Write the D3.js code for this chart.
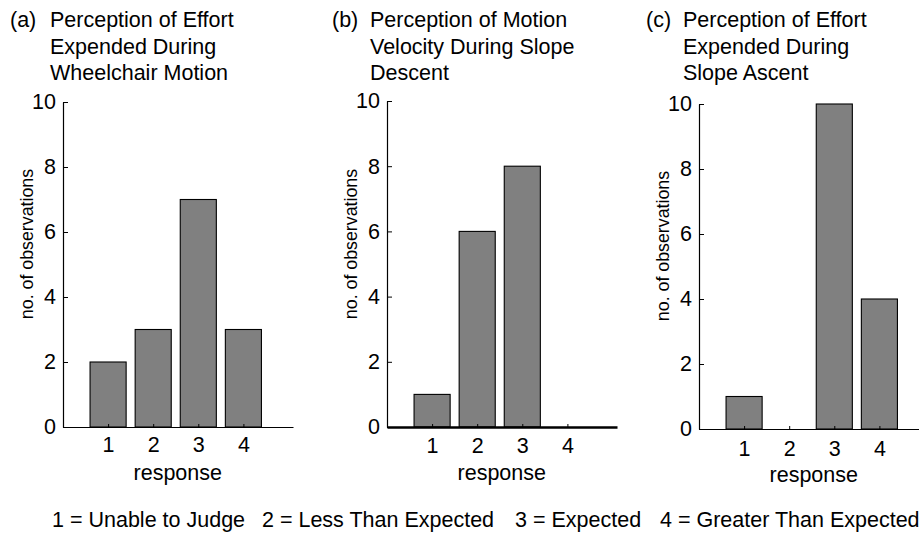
<!DOCTYPE html>
<html>
<head>
<meta charset="utf-8">
<script src="https://cdn.jsdelivr.net/npm/d3@7"></script>
<style>
  html, body { margin: 0; padding: 0; background: #fff; }
  svg { display: block; font-family: "Liberation Sans", Arial, Helvetica, sans-serif; }
</style>
</head>
<body>
<svg id="chart" width="919" height="538"></svg>
<script>
// Response categories shared by all three panels
const responses = [1, 2, 3, 4];

// Number of observations for each response
const effortWheelchair = [2, 3, 7, 3];
const velocityDescent = [1, 6, 8, 0];
const effortAscent = [1, 0, 10, 4];

// Axis ticks
const yTicks = [0, 2, 4, 6, 8, 10];
const xTicks = [1, 2, 3, 4];

// Panel labels and titles
const panelTags = ["(a)", "(b)", "(c)"];
const titleA = ["Perception of Effort", "Expended During", "Wheelchair Motion"];
const titleB = ["Perception of Motion", "Velocity During Slope", "Descent"];
const titleC = ["Perception of Effort", "Expended During", "Slope Ascent"];

const xLabel = "response";
const yLabel = "no. of observations";

const legendItems = ["1 = Unable to Judge", "2 = Less Than Expected", "3 = Expected", "4 = Greater Than Expected"];

// Layout of each panel: axis origin, top of the y range, and title placement
const panels = [
  { values: effortWheelchair, title: titleA, tag: panelTags[0], ox: 63,  oy: 427, top: 102, tagX: 10,  titleX: 50,  tickPad: 10, baseWidth: 1.2 },
  { values: velocityDescent,  title: titleB, tag: panelTags[1], ox: 387, oy: 427, top: 101, tagX: 332, titleX: 370, tickPad: 11, baseWidth: 2.6 },
  { values: effortAscent,     title: titleC, tag: panelTags[2], ox: 699, oy: 429, top: 104, tagX: 646, titleX: 683, tickPad: 12, baseWidth: 1.2 }
];

const svg = d3.select("#chart");
const FONT = 21.5;

panels.forEach(p => {
  const x = d3.scaleLinear().domain([0, 5.1]).range([0, 230]);
  const y = d3.scaleLinear().domain([0, 10]).range([p.oy - p.top, 0]);

  const g = svg.append("g").attr("transform", `translate(${p.ox},${p.top})`);

  // Bars
  g.selectAll("rect.bar")
    .data(responses.map((r, i) => ({ r, v: p.values[i] })).filter(d => d.v > 0))
    .join("rect")
    .attr("class", "bar")
    .attr("x", d => x(d.r - 0.4))
    .attr("width", x(0.8) - x(0))
    .attr("y", d => y(d.v))
    .attr("height", d => y(0) - y(d.v))
    .attr("fill", "#808080")
    .attr("stroke", "#000")
    .attr("stroke-width", 1.1);

  // Y axis
  const yAxis = g.append("g")
    .call(d3.axisLeft(y).tickValues(yTicks).tickSizeInner(-5).tickSizeOuter(0).tickPadding(7));
  yAxis.select(".domain").attr("stroke", "#000").attr("stroke-width", 1.2);
  yAxis.selectAll(".tick line").attr("stroke", "#000").attr("stroke-width", 1);
  yAxis.selectAll(".tick text").attr("font-size", FONT).attr("fill", "#000")
    .attr("font-family", "Liberation Sans, Arial, sans-serif");

  // X axis
  const xAxis = g.append("g")
    .attr("transform", `translate(0,${y(0)})`)
    .call(d3.axisBottom(x).tickValues(xTicks).tickFormat(d3.format("d"))
      .tickSizeInner(-3).tickSizeOuter(0).tickPadding(p.tickPad));
  xAxis.select(".domain").attr("stroke", "#000").attr("stroke-width", p.baseWidth);
  xAxis.selectAll(".tick line").attr("stroke", "#000").attr("stroke-width", 1);
  xAxis.selectAll(".tick text").attr("font-size", FONT).attr("fill", "#000")
    .attr("font-family", "Liberation Sans, Arial, sans-serif");

  // Axis titles
  g.append("text")
    .attr("x", x(2.5) + 2)
    .attr("y", y(0) + 53)
    .attr("text-anchor", "middle")
    .attr("font-size", FONT)
    .text(xLabel);

  g.append("text")
    .attr("transform", `translate(-30,${y(0) - 183}) rotate(-90)`)
    .attr("text-anchor", "middle")
    .attr("font-size", 17.8)
    .text(yLabel);

  // Panel tag and multi-line title
  svg.append("text")
    .attr("x", p.tagX)
    .attr("y", 27)
    .attr("font-size", FONT)
    .text(p.tag);

  svg.append("g").selectAll("text")
    .data(p.title)
    .join("text")
    .attr("x", p.titleX)
    .attr("y", (d, i) => 27 + i * 26.5)
    .attr("font-size", FONT)
    .text(d => d);
});

// Response code key along the bottom
const legendX = [52, 262, 515, 660];
svg.append("g").selectAll("text")
  .data(legendItems)
  .join("text")
  .attr("x", (d, i) => legendX[i])
  .attr("y", 527)
  .attr("font-size", FONT)
  .text(d => d);
</script>
</body>
</html>
